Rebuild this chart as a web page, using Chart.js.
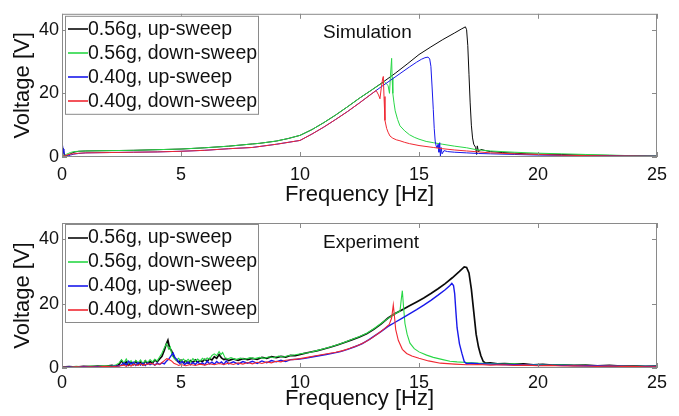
<!DOCTYPE html>
<html><head><meta charset="utf-8">
<script src="https://cdn.jsdelivr.net/npm/chart.js@4.4.0/dist/chart.umd.min.js"></script>
<style>
html,body{margin:0;padding:0;background:#fff;width:679px;height:416px;overflow:hidden}
canvas{position:absolute;left:0;display:block}
</style></head><body>
<canvas id="sim" width="679" height="208" style="top:0"></canvas>
<canvas id="exp" width="679" height="208" style="top:208px"></canvas>
<script>
// ---------- data ----------
const xTicks = [0, 5, 10, 15, 20, 25];
const yTicks = [0, 20, 40];
const seriesLabels = ['0.56g, up-sweep', '0.56g, down-sweep', '0.40g, up-sweep', '0.40g, down-sweep'];
const panelTitles = ['Simulation', 'Experiment'];

// Simulation, 0.56g up-sweep
const simUp56Freq = [0,0.04,0.08,0.12,0.18,0.25,0.35,0.5,0.7,1,2,3,4,5,6,7,8,8.3,9,9.5,10,10.5,11,11.5,12,12.5,13,13.5,14,14.5,15,15.5,16,16.5,16.8,16.95,17.0,17.05,17.1,17.15,17.2,17.25,17.3,17.38,17.42,17.45,17.5,17.6,17.8,18,18.5,19,19.5,20,21,22,23,24,25];
const simUp56Volt = [0,2.8,1.4,0.6,0.4,0.6,1.0,1.5,1.8,1.9,2.0,2.1,2.3,2.5,2.9,3.4,4.1,4.3,5.0,5.8,6.8,8.6,10.8,13.2,15.8,18.5,21.0,23.6,26.3,29.2,32.2,34.6,36.9,39.0,40.3,40.9,40.0,35.0,26.0,17.0,10.0,6.0,4.0,3.0,0.8,3.5,1.6,2.4,2.0,1.7,1.4,1.2,1.0,0.9,0.8,0.6,0.5,0.4,0.3];
// Simulation, 0.56g down-sweep
const simDown56Freq = [0,0.1,0.2,0.35,0.5,0.7,1,2,3,4,5,6,7,8,8.3,9,9.5,10,10.5,11,11.5,12,12.5,13,13.3,13.55,13.7,13.76,13.8,13.85,13.87,13.9,13.95,14.0,14.1,14.2,14.4,14.6,14.8,15,15.3,15.6,16,16.5,17,17.4,18,19,20,21,22,23,24,25];
const simDown56Volt = [0.2,0.5,0.9,1.4,1.7,1.8,1.9,2.0,2.1,2.3,2.5,2.9,3.4,4.1,4.3,5.0,5.8,6.8,8.6,10.8,13.2,15.8,18.5,21.0,22.5,23.6,22.5,20.0,25.5,31.0,25.0,20.0,17.0,14.5,11.8,9.8,8.2,7.0,6.2,5.6,4.9,4.5,4.0,3.4,2.9,2.3,1.9,1.5,1.2,1.0,0.8,0.6,0.4,0.3];
// Simulation, 0.40g up-sweep
const simUp40Freq = [0,0.02,0.05,0.08,0.12,0.18,0.25,0.35,0.5,0.7,1,2,3,4,5,6,7,8,9,10,10.5,11,11.5,12,12.5,13,13.4,13.8,14.2,14.6,14.9,15.1,15.25,15.38,15.45,15.5,15.55,15.6,15.64,15.68,15.72,15.76,15.8,15.84,15.87,15.9,15.93,15.97,16.05,16.2,16.5,17,17.5,18,19,20,21,22,23,24,25];
const simUp40Volt = [0,3.8,2.5,1.2,0.4,0.2,0.3,0.6,0.9,1.1,1.3,1.4,1.5,1.6,1.8,2.1,2.6,3.0,4.0,5.2,7.2,9.4,11.8,14.3,17.0,19.8,22.0,24.1,26.2,28.3,29.8,30.7,31.2,31.4,30.8,28.5,22.0,15.0,9.0,5.0,3.5,2.8,4.0,1.5,4.5,0.3,3.0,1.0,2.0,1.7,1.5,1.3,1.1,1.0,0.8,0.6,0.5,0.45,0.4,0.3,0.25];
// Simulation, 0.40g down-sweep
const simDown40Freq = [0,0.1,0.2,0.35,0.5,0.7,1,2,3,4,5,6,7,8,9,10,10.5,11,11.5,12,12.5,13,13.2,13.3,13.36,13.42,13.47,13.5,13.53,13.57,13.64,13.7,13.78,13.9,14.05,14.2,14.4,14.6,15,15.6,16,16.5,17,17.5,18,19,20,21,22,23,24,25];
const simDown40Volt = [0.1,0.4,0.6,0.9,1.0,1.2,1.3,1.4,1.5,1.6,1.8,2.1,2.6,3.0,4.0,5.2,7.2,9.4,11.8,14.3,17.0,19.8,20.9,19.5,18.3,22.0,24.5,25.3,19.0,11.5,9.0,7.8,6.6,5.9,5.4,5.1,4.6,4.2,3.6,3.0,2.6,2.2,1.9,1.6,1.3,1.0,0.8,0.55,0.45,0.35,0.3,0.2];

// Experiment, 0.56g up-sweep
const expUp56Freq = [0,0.3,0.6,0.9,1.2,1.5,1.8,2.1,2.25,2.4,2.5,2.6,2.7,2.8,2.9,3.0,3.1,3.2,3.3,3.4,3.5,3.6,3.7,3.8,3.9,4.0,4.1,4.2,4.3,4.38,4.45,4.52,4.6,4.7,4.8,4.9,5.0,5.1,5.2,5.3,5.4,5.5,5.6,5.7,5.8,5.9,6.0,6.1,6.2,6.3,6.4,6.5,6.6,6.7,6.8,6.9,7.0,7.2,7.4,7.6,7.8,8.0,8.2,8.4,8.6,8.8,9.0,9.2,9.4,9.6,9.8,10.1,10.4,10.7,11.0,11.3,11.6,11.9,12.2,12.5,12.8,13.1,13.4,13.7,14.0,14.3,14.6,14.9,15.2,15.5,15.8,16.1,16.4,16.7,16.9,17.0,17.1,17.2,17.3,17.4,17.5,17.6,17.7,17.8,18.0,18.3,18.6,19.0,19.4,19.8,20.2,20.6,21.0,21.5,22.0,22.5,23.0,23.5,24.0,24.5,25.0];
const expUp56Volt = [0.3,0.4,0.3,0.5,0.4,0.6,0.5,0.8,0.5,1.1,2.3,1.2,1.9,0.9,1.7,1.1,2.1,1.2,1.8,1.0,2.2,1.4,2.0,1.5,2.5,1.9,2.8,3.6,5.5,7.4,8.6,6.2,5.4,3.4,2.5,1.8,2.4,1.6,2.2,1.5,2.3,1.7,2.5,1.8,2.3,2.0,2.7,2.1,2.9,2.5,3.5,3.0,4.2,3.1,2.6,2.9,2.3,2.8,2.4,2.9,2.6,3.0,2.7,3.3,3.0,3.5,3.2,3.6,3.4,3.9,3.8,4.4,4.9,5.3,5.9,6.5,7.2,8.0,8.8,9.6,10.6,12.0,13.6,15.5,16.9,18.1,19.3,20.5,21.7,23.1,24.6,26.2,28.0,30.0,31.4,31.2,29.5,24.5,17.5,10.5,6.5,3.8,2.0,1.5,1.6,1.3,1.4,1.2,1.3,1.0,1.1,0.9,1.0,0.8,0.9,0.7,0.8,0.6,0.7,0.5,0.6];
// Experiment, 0.56g down-sweep
const expDown56Freq = [0,0.3,0.6,0.9,1.2,1.5,1.8,2.1,2.25,2.4,2.5,2.6,2.7,2.8,2.9,3.0,3.1,3.2,3.3,3.4,3.5,3.6,3.7,3.8,3.9,4.0,4.1,4.2,4.3,4.4,4.48,4.55,4.62,4.7,4.8,4.9,5.0,5.1,5.2,5.3,5.4,5.5,5.6,5.7,5.8,5.9,6.0,6.1,6.2,6.3,6.4,6.5,6.6,6.68,6.75,6.85,6.95,7.1,7.3,7.5,7.7,7.9,8.1,8.3,8.5,8.7,8.9,9.1,9.3,9.5,9.8,10.1,10.4,10.7,11.0,11.3,11.6,11.9,12.2,12.5,12.8,13.1,13.4,13.7,13.95,14.1,14.2,14.25,14.3,14.35,14.41,14.5,14.62,14.8,15.0,15.32,15.6,16.0,16.3,16.6,17.0,17.5,18.0,18.5,19.0,19.5,20.0,20.5,21.0,21.5,22.0,22.5,23.0,23.5,24.0,24.5,25.0];
const expDown56Volt = [0.4,0.3,0.5,0.4,0.6,0.5,0.7,0.6,0.9,1.6,2.6,1.5,2.8,1.4,2.3,1.3,2.4,1.6,2.5,1.4,2.3,1.7,2.6,1.9,2.7,2.2,3.4,4.6,6.3,7.6,5.9,6.6,4.0,3.1,2.4,3.0,2.1,2.8,2.0,2.7,1.9,2.9,2.2,2.8,2.1,3.0,2.4,3.1,2.7,3.9,4.4,3.8,5.1,4.2,4.8,3.2,2.8,3.2,2.6,3.1,2.7,3.2,2.9,3.3,3.0,3.5,3.2,3.7,3.4,3.8,4.1,4.5,4.8,5.4,6.0,6.6,7.3,8.1,8.9,9.8,10.8,12.2,13.8,15.4,16.7,17.3,17.6,21.0,24.0,19.0,13.8,10.5,7.7,6.0,5.0,4.0,3.3,2.6,2.1,1.9,1.7,1.5,1.4,1.2,1.3,1.0,1.1,0.9,1.0,0.8,0.8,0.7,0.7,0.6,0.6,0.5,0.5];
// Experiment, 0.40g up-sweep
const expUp40Freq = [0,0.3,0.6,0.9,1.2,1.5,1.8,2.1,2.4,2.5,2.6,2.7,2.8,2.9,3.0,3.1,3.2,3.3,3.4,3.5,3.6,3.7,3.8,3.9,4.0,4.1,4.2,4.3,4.4,4.5,4.6,4.67,4.75,4.85,4.95,5.05,5.15,5.3,5.4,5.5,5.6,5.7,5.8,5.9,6.0,6.1,6.2,6.3,6.4,6.5,6.6,6.7,6.8,6.9,7.0,7.2,7.4,7.6,7.8,8.0,8.2,8.4,8.6,8.8,9.0,9.2,9.4,9.6,9.9,10.2,10.5,10.8,11.1,11.4,11.7,12.0,12.3,12.6,12.9,13.1,13.4,13.7,14.0,14.3,14.6,14.9,15.2,15.5,15.8,16.1,16.3,16.38,16.45,16.5,16.55,16.6,16.7,16.8,16.9,17.0,17.2,17.5,18.0,18.5,19,20,21,22,23,24,25];
const expUp40Volt = [0.2,0.3,0.2,0.4,0.3,0.4,0.3,0.5,0.6,1.0,1.6,0.9,2.1,1.2,1.8,0.8,1.7,0.9,1.5,0.8,1.6,1.0,1.4,0.9,1.5,1.1,1.6,1.3,2.2,2.9,4.0,4.6,3.2,2.4,1.4,2.0,1.1,1.8,1.0,1.7,1.1,1.9,1.2,1.6,1.0,2.1,1.3,1.8,1.2,2.0,1.4,1.9,1.1,2.2,1.3,1.9,1.2,2.0,1.5,2.1,1.4,2.2,1.6,2.3,1.9,2.4,2.0,2.6,2.7,3.0,3.4,3.8,4.2,4.6,5.1,5.8,6.6,7.5,8.8,9.8,11.3,12.9,14.2,15.5,16.8,18.1,19.5,21.0,22.6,24.3,25.6,26.3,25.6,23.0,17.5,12.5,7.5,4.6,2.0,1.3,1.5,1.3,1.2,1.1,1.0,0.9,0.8,0.7,0.6,0.5,0.5];
// Experiment, 0.40g down-sweep
const expDown40Freq = [0,0.3,0.6,0.9,1.2,1.5,1.8,2.1,2.4,2.6,2.7,2.8,2.9,3.0,3.2,3.3,3.4,3.6,3.8,3.9,4.0,4.1,4.2,4.3,4.4,4.5,4.6,4.7,4.8,4.9,5.0,5.2,5.4,5.6,5.8,6.0,6.2,6.4,6.6,6.8,7.0,7.2,7.4,7.6,7.8,8.0,8.2,8.4,8.6,8.8,9.0,9.2,9.4,9.7,10.0,10.3,10.6,10.9,11.2,11.5,11.8,12.1,12.4,12.7,13.0,13.3,13.55,13.75,13.85,13.92,13.97,14.02,14.13,14.3,14.48,14.7,15.0,15.4,15.9,16.5,17.0,17.5,18.0,18.5,19.0,19.5,20.0,20.5,21.0,21.5,22.0,22.5,23.0,23.5,24.0,24.5,25.0];
const expDown40Volt = [0.3,0.2,0.4,0.3,0.4,0.3,0.5,0.4,0.6,0.9,0.5,1.0,0.6,1.1,0.8,1.3,0.9,1.2,1.4,0.9,1.3,1.1,1.7,2.3,2.9,2.6,2.2,1.5,1.2,0.8,1.1,0.7,1.1,0.8,1.2,0.9,1.3,1.0,1.4,1.1,1.5,1.1,1.6,1.2,1.7,1.3,1.8,1.4,1.9,1.6,2.1,1.9,2.4,2.6,2.9,3.3,3.7,4.1,4.5,4.9,5.4,6.1,6.9,7.9,9.2,10.8,12.2,13.5,15.5,19.6,16.0,12.0,8.6,5.8,4.5,3.7,3.0,2.2,1.5,1.2,1.0,1.1,0.9,1.0,0.8,0.9,0.7,0.8,0.6,0.7,0.6,0.5,0.6,0.5,0.5,0.4,0.4];

// ---------- chart ----------
const FONT = "'Liberation Sans', Arial, sans-serif";
const colors = ['rgb(10,10,10)', 'rgb(40,215,70)', 'rgb(25,25,235)', 'rgb(240,40,50)'];

function pts(f, v) { return f.map((x, i) => ({x: x, y: v[i]})); }

function makeDatasets(pairs, widths) {
  return pairs.map((p, i) => ({
    label: seriesLabels[i],
    data: pts(p[0], p[1]),
    borderColor: colors[i],
    backgroundColor: colors[i],
    borderWidth: widths[i],
    pointRadius: 0,
    fill: false,
    tension: 0,
    order: 3 - i
  }));
}

const framePlugin = {
  id: 'framePlugin',
  afterDatasetsDraw(chart, args, opts) {
    const {ctx, chartArea: a, scales} = chart;
    ctx.save();
    ctx.strokeStyle = '#8a8a8a';
    ctx.lineWidth = 1;
    ctx.strokeRect(a.left + 0.5, a.top + 0.5, a.right - a.left - 1, a.bottom - a.top - 1);
    ctx.beginPath();
    xTicks.forEach(v => {
      const px = Math.round(scales.x.getPixelForValue(v)) + 0.5;
      ctx.moveTo(px, a.top); ctx.lineTo(px, a.top + 5);
      ctx.moveTo(px, a.bottom); ctx.lineTo(px, a.bottom - 5);
    });
    yTicks.forEach(v => {
      const py = Math.round(scales.y.getPixelForValue(v)) + 0.5;
      ctx.moveTo(a.left, py); ctx.lineTo(a.left + 5, py);
      ctx.moveTo(a.right, py); ctx.lineTo(a.right - 5, py);
    });
    ctx.stroke();
    // panel title
    ctx.fillStyle = '#111';
    ctx.font = '19px ' + FONT;
    ctx.textBaseline = 'middle';
    ctx.textAlign = 'left';
    ctx.fillText(opts.title, a.left + 261, a.top + opts.titleDy);
    // legend box
    const bx = a.left + 3, by = a.top + opts.legendDy, bw = 193, bh = 98;
    ctx.fillStyle = '#fff';
    ctx.fillRect(bx, by, bw, bh);
    ctx.strokeStyle = '#8a8a8a';
    ctx.strokeRect(bx + 0.5, by + 0.5, bw, bh);
    ctx.font = '19.5px ' + FONT;
    chart.data.datasets.forEach((ds, i) => {
      const ry = by + 13.5 + i * 24;
      ctx.strokeStyle = ds.borderColor;
      ctx.lineWidth = 1.6;
      ctx.beginPath();
      ctx.moveTo(bx + 3, Math.round(ry));
      ctx.lineTo(bx + 23, Math.round(ry));
      ctx.stroke();
      ctx.fillStyle = '#111';
      ctx.fillText(ds.label, bx + 23, ry);
    });
    ctx.restore();
  }
};

function makeChart(id, datasets, cfg) {
  return new Chart(document.getElementById(id), {
    type: 'line',
    data: {datasets: datasets},
    plugins: [framePlugin],
    options: {
      responsive: false,
      animation: false,
      devicePixelRatio: 1,
      events: [],
      layout: {padding: {left: 0, right: 22, top: cfg.top, bottom: 0}},
      plugins: {
        legend: {display: false},
        tooltip: {enabled: false},
        framePlugin: {title: cfg.title, titleDy: cfg.titleDy, legendDy: cfg.legendDy}
      },
      scales: {
        x: {
          type: 'linear', min: 0, max: 25,
          afterBuildTicks: s => { s.ticks = xTicks.map(v => ({value: v})); },
          afterFit: s => { s.height = cfg.xAxisH; },
          grid: {display: false, drawTicks: false},
          border: {display: false},
          ticks: {font: {family: FONT, size: 18}, color: '#111', padding: cfg.xTickPad, maxRotation: 0, autoSkip: false},
          title: {display: true, text: 'Frequency [Hz]', color: '#111', font: {family: FONT, size: 22}, padding: {top: 0, bottom: cfg.xTitlePad}}
        },
        y: {
          type: 'linear', min: 0, max: 45,
          afterBuildTicks: s => { s.ticks = yTicks.map(v => ({value: v})); },
          afterFit: s => { s.width = 62; },
          grid: {display: false, drawTicks: false},
          border: {display: false},
          ticks: {font: {family: FONT, size: 18}, color: '#111', padding: 3},
          title: {display: true, text: 'Voltage [V]', color: '#111', font: {family: FONT, size: 22}, padding: {top: 10, bottom: 0}}
        }
      }
    }
  });
}

makeChart('sim', makeDatasets([
  [simUp56Freq, simUp56Volt], [simDown56Freq, simDown56Volt],
  [simUp40Freq, simUp40Volt], [simDown40Freq, simDown40Volt]
], [1, 1, 1, 1]), {top: 12, xAxisH: 51, xTickPad: 7, xTitlePad: 0, title: panelTitles[0], titleDy: 19, legendDy: 2});

makeChart('exp', makeDatasets([
  [expUp56Freq, expUp56Volt], [expDown56Freq, expDown56Volt],
  [expUp40Freq, expUp40Volt], [expDown40Freq, expDown40Volt]
], [1.7, 1.1, 1.4, 1.1]), {top: 15, xAxisH: 48, xTickPad: 4, xTitlePad: 4, title: panelTitles[1], titleDy: 20, legendDy: 1});
</script>
</body></html>
